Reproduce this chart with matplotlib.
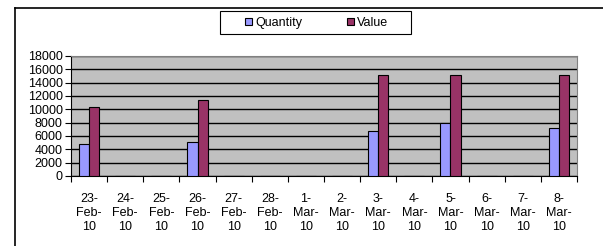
import matplotlib.pyplot as plt
import numpy as np
from matplotlib.lines import Line2D
from matplotlib.patches import Rectangle

plt.rcParams['font.family'] = ['Liberation Sans', 'DejaVu Sans']

# data
dates = ['23-\nFeb-\n10', '24-\nFeb-\n10', '25-\nFeb-\n10', '26-\nFeb-\n10', '27-\nFeb-\n10',
         '28-\nFeb-\n10', '1-\nMar-\n10', '2-\nMar-\n10', '3-\nMar-\n10', '4-\nMar-\n10',
         '5-\nMar-\n10', '6-\nMar-\n10', '7-\nMar-\n10', '8-\nMar-\n10']
quantity = [4850, 0, 0, 5050, 0, 0, 0, 0, 6750, 0, 7900, 0, 0, 7150]
value = [10400, 0, 0, 11400, 0, 0, 0, 0, 15150, 0, 15150, 0, 0, 15150]
yticks = list(range(0, 18001, 2000))

W, H = 603, 246
fig = plt.figure(figsize=(W / 100, H / 100), dpi=100)

# outer chart frame (top and left edges only visible)
fig.add_artist(Line2D([15 / W, 1], [1 - 8 / H, 1 - 8 / H], color='black', lw=1.2))
fig.add_artist(Line2D([15 / W, 15 / W], [0, 1 - 8 / H], color='black', lw=1.2))

# legend box frame (drawn behind the legend entries)
fig.add_artist(Rectangle((220 / W, 1 - 34 / H), 191 / W, 23 / H, transform=fig.transFigure,
                         facecolor='white', edgecolor='black', lw=0.8, zorder=-1))

# plot area: x 71..577, y 56..176 (pixels from top)
ax = fig.add_axes([71 / W, 1 - 176 / H, (577 - 71) / W, (176 - 56) / H])
ax.set_facecolor('#C0C0C0')

x = np.arange(len(dates))
bw = 0.28
ax.bar(x - bw / 2, quantity, bw, color='#9999FF', edgecolor='black', linewidth=0.8, label='Quantity', zorder=3)
ax.bar(x + bw / 2, value, bw, color='#993366', edgecolor='black', linewidth=0.8, label='Value', zorder=3)

ax.set_xlim(-0.5, len(dates) - 0.5)
ax.set_ylim(0, 18000)
ax.set_yticks(yticks)
ax.set_yticklabels([str(v) for v in yticks], fontsize=9)
ax.yaxis.grid(True, color='black', lw=1)
ax.set_axisbelow(True)

# x ticks between categories, labels centered under each category
ax.set_xticks(np.arange(-0.5, len(dates), 1))
ax.set_xticklabels([])
ax.set_xticks(x, minor=True)
ax.set_xticklabels(dates, minor=True, fontsize=9, linespacing=1.25)
ax.tick_params(axis='x', which='minor', length=0, pad=12)
ax.tick_params(axis='x', which='major', length=4, direction='out')
ax.tick_params(axis='y', length=4, direction='out', pad=2)

for s in ['top', 'right']:
    ax.spines[s].set_color('#808080')
for s in ['left', 'bottom']:
    ax.spines[s].set_color('black')

leg = ax.legend(loc='center left', bbox_to_anchor=(245 / W, 1 - 23 / H), bbox_transform=fig.transFigure,
                ncol=2, fontsize=9, frameon=False,
                handlelength=0.55, handleheight=0.5, handletextpad=0.25, columnspacing=3.6,
                borderpad=0, borderaxespad=0)

fig.savefig('out.png', dpi=100)
